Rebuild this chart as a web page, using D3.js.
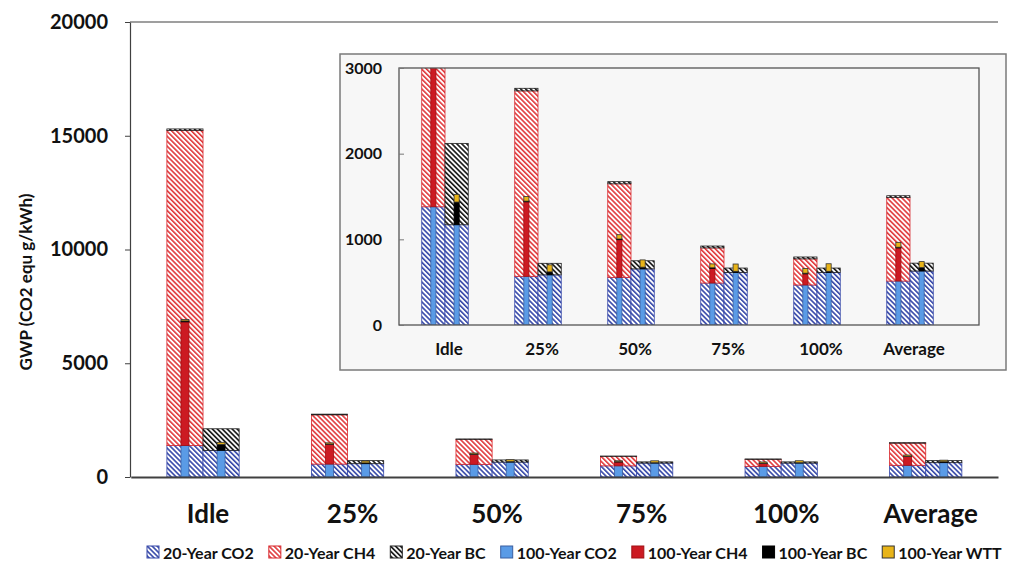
<!DOCTYPE html>
<html>
<head>
<meta charset="utf-8">
<script src="https://cdn.jsdelivr.net/npm/d3@7"></script>
<style>
  body { margin: 0; background: #fff; }
  svg { display: block; font-family: Lato, "Open Sans", sans-serif; font-weight: bold; }
</style>
</head>
<body>
<svg id="chart"></svg>
<script>
const categories = ["Idle", "25%", "50%", "75%", "100%", "Average"];

// first pair of bars (CO2 + CH4)
const co2_20A  = [1380, 568, 556, 490, 467, 513];
const ch4_20A  = [13850, 2165, 1092, 410, 305, 974];
const bc_20A   = [70, 30, 25, 22, 22, 22];
const co2_100A = [1380, 568, 556, 490, 467, 513];
const ch4_100A = [5440, 870, 440, 170, 130, 387];
const bc_100A  = [40, 8, 8, 8, 8, 8];
const wtt_100A = [60, 55, 50, 45, 55, 57];

// second pair of bars (CO2 + BC)
const co2_20B  = [1170, 585, 655, 612, 612, 630];
const bc_20B   = [950, 135, 95, 53, 53, 92];
const co2_100B = [1170, 585, 655, 612, 612, 630];
const bc_100B  = [265, 35, 20, 15, 15, 40];
const wtt_100B = [90, 82, 85, 85, 88, 70];

const mainTicks = [0, 5000, 10000, 15000, 20000];
const insetTicks = [0, 1000, 2000, 3000];

const legendItems = [
  { label: "20-Year CO2", fill: "url(#hBlue)", stroke: "#3446a8" },
  { label: "20-Year CH4", fill: "url(#hRed)", stroke: "#d8262b" },
  { label: "20-Year BC", fill: "url(#hBlack)", stroke: "#222" },
  { label: "100-Year CO2", fill: "#5a9be6", stroke: "#3a5fa0" },
  { label: "100-Year CH4", fill: "#cc1a22", stroke: "#a01015" },
  { label: "100-Year BC", fill: "#000", stroke: "#000" },
  { label: "100-Year WTT", fill: "#e8b418", stroke: "#333" }
];

const rows = categories.map((c, i) => ({
  cat: c,
  co2_20A: co2_20A[i], ch4_20A: ch4_20A[i], bc_20A: bc_20A[i],
  co2_100A: co2_100A[i], ch4_100A: ch4_100A[i], bc_100A: bc_100A[i], wtt_100A: wtt_100A[i],
  co2_20B: co2_20B[i], bc_20B: bc_20B[i],
  co2_100B: co2_100B[i], bc_100B: bc_100B[i], wtt_100B: wtt_100B[i]
}));

const styles = {
  co2_20A: legendItems[0], ch4_20A: legendItems[1], bc_20A: legendItems[2],
  co2_100A: legendItems[3], ch4_100A: legendItems[4], bc_100A: legendItems[5], wtt_100A: legendItems[6],
  co2_20B: legendItems[0], bc_20B: legendItems[2],
  co2_100B: legendItems[3], bc_100B: legendItems[5], wtt_100B: legendItems[6]
};

const stacks = [
  { group: "A", narrow: false, keys: ["co2_20A", "ch4_20A", "bc_20A"] },
  { group: "B", narrow: false, keys: ["co2_20B", "bc_20B"] },
  { group: "A", narrow: true, keys: ["co2_100A", "ch4_100A", "bc_100A", "wtt_100A"] },
  { group: "B", narrow: true, keys: ["co2_100B", "bc_100B", "wtt_100B"] }
];

const width = 1019, height = 565;
const svg = d3.select("#chart").attr("width", width).attr("height", height);
const defs = svg.append("defs");

function hatch(id, color) {
  const p = defs.append("pattern")
    .attr("id", id)
    .attr("patternUnits", "userSpaceOnUse")
    .attr("width", 3.5).attr("height", 3.5)
    .attr("patternTransform", "rotate(-45)");
  p.append("rect").attr("width", 3.5).attr("height", 3.5).attr("fill", "#fff");
  p.append("rect").attr("width", 1.6).attr("height", 3.5).attr("fill", color);
}
hatch("hBlue", "#3446a8");
hatch("hRed", "#e0383b");
hatch("hBlack", "#111");

function drawBars(g, x, y) {
  const x1 = d3.scaleBand().domain(["A", "B"]).range([0, x.bandwidth()]);
  stacks.forEach(s => {
    const series = d3.stack().keys(s.keys)(rows);
    const w = s.narrow ? x1.bandwidth() * 0.22 : x1.bandwidth();
    const off = s.narrow ? (x1.bandwidth() - w) / 2 : 0;
    series.forEach(ser => {
      const st = styles[ser.key];
      g.selectAll(null)
        .data(ser)
        .enter()
        .append("rect")
        .attr("x", d => x(d.data.cat) + x1(s.group) + off)
        .attr("y", d => y(d[1]))
        .attr("width", w)
        .attr("height", d => y(d[0]) - y(d[1]))
        .attr("fill", st.fill)
        .attr("stroke", st.stroke)
        .attr("stroke-width", 0.8);
    });
  });
}

// ---------- main chart ----------
const x = d3.scaleBand().domain(categories).range([130.75, 998]).paddingInner(0.5).paddingOuter(0.25);
const y = d3.scaleLinear().domain([0, 20000]).range([477, 22]);

const main = svg.append("g");
drawBars(main.append("g"), x, y);

main.append("line")
  .attr("x1", 130).attr("x2", 998).attr("y1", 22).attr("y2", 22)
  .attr("stroke", "#404040").attr("stroke-width", 1.2);

main.append("g")
  .attr("transform", "translate(130,0)")
  .call(d3.axisLeft(y).tickValues(mainTicks).tickFormat(d3.format("d")).tickSize(5).tickSizeOuter(0).tickPadding(17))
  .call(a => a.select(".domain").attr("stroke", "#404040").attr("stroke-width", 1.2))
  .call(a => a.selectAll(".tick line").attr("stroke", "#404040"))
  .call(a => a.selectAll("text").attr("font-size", 20).attr("font-family", "Lato").attr("font-weight", "bold").attr("fill", "#111"));

main.append("g")
  .attr("transform", "translate(0,477)")
  .call(d3.axisBottom(x).tickSize(0).tickSizeOuter(0).tickPadding(28))
  .call(a => a.select(".domain").attr("stroke", "#404040").attr("stroke-width", 2))
  .call(a => a.selectAll("text").attr("dx", 5).attr("font-size", 26).attr("font-family", "Lato").attr("font-weight", "bold").attr("fill", "#111"));

svg.append("text")
  .attr("transform", "translate(25,282) rotate(-90)")
  .attr("text-anchor", "middle")
  .attr("dominant-baseline", "central")
  .attr("font-size", 17)
  .attr("fill", "#111")
  .text("GWP (CO2 equ g/kWh)");

// ---------- inset ----------
const inset = svg.append("g");
inset.append("rect")
  .attr("x", 340).attr("y", 54).attr("width", 666).attr("height", 316)
  .attr("fill", "#f7f7f7").attr("stroke", "#7a7a7a").attr("stroke-width", 1.5);

const xi = d3.scaleBand().domain(categories).range([398.5, 956.5]).paddingInner(0.5).paddingOuter(0.25);
const yi = d3.scaleLinear().domain([0, 3000]).range([325, 68]);

defs.append("clipPath").attr("id", "insetClip")
  .append("rect").attr("x", 399).attr("y", 68).attr("width", 580).attr("height", 257);

drawBars(inset.append("g").attr("clip-path", "url(#insetClip)"), xi, yi);

inset.append("rect")
  .attr("x", 399).attr("y", 68).attr("width", 580).attr("height", 257)
  .attr("fill", "none").attr("stroke", "#555").attr("stroke-width", 1.3);

inset.append("g")
  .attr("transform", "translate(399,0)")
  .call(d3.axisLeft(yi).tickValues(insetTicks).tickFormat(d3.format("d")).tickSizeInner(-5).tickSizeOuter(0).tickPadding(17))
  .call(a => a.select(".domain").remove())
  .call(a => a.selectAll(".tick line").attr("stroke", "#777"))
  .call(a => a.selectAll("text").attr("font-size", 16).attr("font-family", "Lato").attr("font-weight", "bold").attr("fill", "#111"));

inset.append("g")
  .attr("transform", "translate(0,325)")
  .call(d3.axisBottom(xi).tickSize(0).tickSizeOuter(0).tickPadding(18))
  .call(a => a.select(".domain").remove())
  .call(a => a.selectAll("text").attr("dx", 4).attr("font-size", 17).attr("font-family", "Lato").attr("font-weight", "bold").attr("fill", "#111"));

// ---------- legend ----------
const legend = svg.append("g").attr("transform", "translate(147,552)");
let lx = 0;
legendItems.forEach(item => {
  const gI = legend.append("g").attr("transform", `translate(${lx},0)`);
  gI.append("rect")
    .attr("x", 0).attr("y", -6).attr("width", 12).attr("height", 12)
    .attr("fill", item.fill).attr("stroke", item.stroke).attr("stroke-width", 1);
  const t = gI.append("text")
    .attr("x", 16).attr("y", 0.5)
    .attr("dominant-baseline", "central")
    .attr("font-size", 16)
    .attr("fill", "#111")
    .text(item.label);
  lx += 16 + t.node().getComputedTextLength() + 15;
});
</script>
</body>
</html>
